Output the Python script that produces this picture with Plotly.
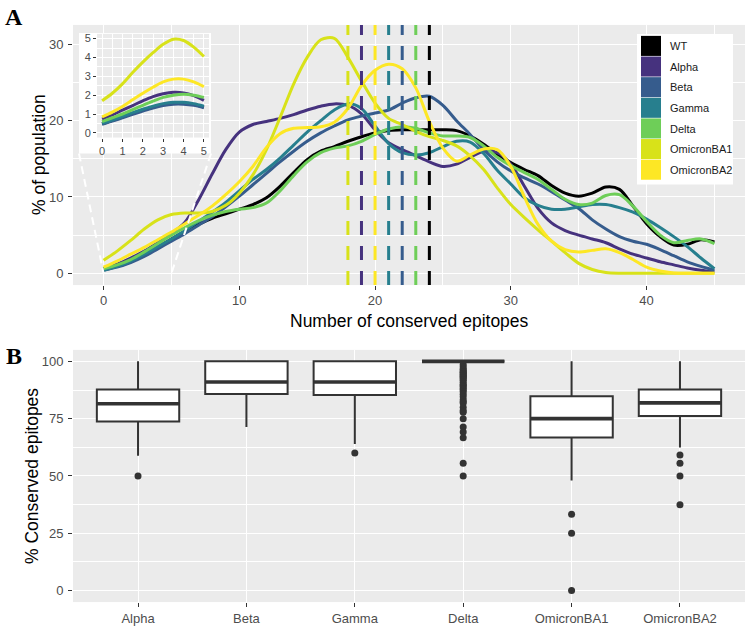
import plotly.graph_objects as go

W, H = 749, 626

# ---------------- Panel A data ----------------
variants = ["WT", "Alpha", "Beta", "Gamma", "Delta", "OmicronBA1", "OmicronBA2"]
colors = ["#000000", "#46327E", "#365C8D", "#277F8E", "#6ECE58", "#D8E219", "#FDE725"]
epitopes = list(range(46))

pct_WT = [0.5, 0.9, 1.5, 2.4, 3.4, 4.5, 5.5, 6.4, 7.2, 7.8, 8.4, 9.0, 9.9, 11.4, 13.2, 14.9,
          16.0, 16.6, 17.3, 17.9, 18.4, 18.7, 18.8, 18.8, 18.8, 18.8, 18.7, 18.0, 16.9, 15.6,
          14.5, 13.6, 12.8, 11.5, 10.5, 10.1, 10.5, 11.3, 11.0, 8.8, 6.5, 4.8, 3.7, 3.8, 4.4, 4.1]
pct_Alpha = [0.6, 1.2, 2.0, 2.9, 4.0, 5.2, 6.7, 9.6, 13.0, 16.2, 18.5, 19.5, 19.9, 20.3, 20.8, 21.4,
             21.9, 22.2, 22.0, 20.9, 18.8, 17.1, 16.2, 15.4, 14.6, 14.0, 14.3, 15.2, 16.0, 15.8,
             14.3, 11.4, 8.5, 6.6, 5.6, 5.0, 4.5, 4.0, 3.2, 2.5, 2.0, 1.5, 1.1, 0.7, 0.4, 0.2]
pct_Beta = [0.4, 0.8, 1.4, 2.2, 3.2, 4.2, 5.2, 6.3, 7.4, 8.7, 10.1, 11.6, 13.1, 14.6, 16.0, 17.3,
            18.4, 19.3, 20.1, 20.6, 21.0, 21.4, 22.3, 23.0, 23.2, 22.0, 20.0, 18.2, 16.2, 14.6,
            13.4, 12.5, 11.7, 10.7, 9.6, 8.5, 7.0, 5.8, 4.8, 4.2, 3.8, 3.1, 2.3, 1.5, 0.9, 0.4]
pct_Gamma = [0.4, 0.9, 1.6, 2.5, 3.5, 4.5, 5.6, 6.8, 8.0, 9.3, 10.8, 12.3, 13.6, 15.1, 16.8, 18.5,
             20.0, 21.4, 22.2, 21.6, 19.3, 17.0, 15.8, 15.5, 15.8, 16.6, 17.3, 17.2, 15.7, 13.5,
             11.7, 9.9, 8.9, 8.4, 8.4, 8.7, 9.0, 9.0, 8.6, 8.0, 7.1, 6.0, 4.8, 3.5, 2.0, 0.6]
pct_Delta = [0.6, 1.1, 1.8, 2.8, 3.9, 5.0, 6.0, 6.9, 7.6, 8.1, 8.4, 8.6, 9.2, 10.8, 12.8, 14.6,
             15.8, 16.4, 16.7, 17.3, 18.2, 18.9, 19.2, 19.0, 18.4, 18.0, 18.0, 17.8, 16.7, 15.2,
             14.1, 13.2, 12.3, 11.0, 9.7, 9.0, 9.2, 10.2, 10.3, 8.8, 6.8, 5.0, 4.0, 4.3, 4.5, 3.9]
pct_BA1 = [1.7, 2.9, 4.3, 5.8, 7.0, 7.7, 7.9, 7.9, 8.1, 8.9, 10.5, 12.9, 16.2, 20.4, 24.8, 28.3,
           30.6, 30.8, 28.3, 25.2, 22.3, 20.3, 19.5, 18.6, 17.9, 17.4, 16.7, 15.4, 13.6, 11.2,
           9.0, 7.3, 5.7, 4.2, 2.7, 1.3, 0.5, 0.1, 0.0, 0.0, 0.0, 0.0, 0.0, 0.0, 0.0, 0.0]
pct_BA2 = [0.8, 1.6, 2.5, 3.4, 4.4, 5.4, 6.5, 7.6, 8.8, 10.3, 12.0, 14.0, 16.5, 18.3, 19.0, 19.1,
           19.2, 19.8, 21.6, 24.6, 26.6, 27.4, 26.8, 24.3, 19.9, 16.4, 14.7, 15.5, 16.3, 16.2,
           14.0, 10.0, 6.4, 4.2, 3.1, 2.8, 3.0, 3.2, 2.7, 1.8, 0.8, 0.3, 0.05, 0.0, 0.0, 0.0]
series_main = [pct_WT, pct_Alpha, pct_Beta, pct_Gamma, pct_Delta, pct_BA1, pct_BA2]

median_epitopes = [24, 19, 22, 21, 23, 18, 20]

# inset (zoom on 0-5 epitopes)
inset_x = [0, 0.5, 1, 1.5, 2, 2.5, 3, 3.5, 4, 4.5, 5]
inset_WT = [0.48, 0.65, 0.84, 1.02, 1.20, 1.37, 1.50, 1.57, 1.57, 1.50, 1.37]
inset_Alpha = [0.73, 0.95, 1.20, 1.45, 1.70, 1.92, 2.07, 2.15, 2.12, 1.97, 1.72]
inset_Beta = [0.45, 0.62, 0.80, 0.98, 1.15, 1.32, 1.45, 1.52, 1.52, 1.46, 1.33]
inset_Gamma = [0.50, 0.68, 0.88, 1.07, 1.25, 1.42, 1.55, 1.62, 1.62, 1.55, 1.42]
inset_Delta = [0.60, 0.80, 1.00, 1.23, 1.46, 1.68, 1.88, 2.00, 2.05, 2.00, 1.88]
inset_BA1 = [1.70, 2.10, 2.60, 3.20, 3.75, 4.25, 4.70, 4.97, 4.90, 4.55, 4.05]
inset_BA2 = [0.85, 1.10, 1.40, 1.75, 2.10, 2.42, 2.70, 2.85, 2.85, 2.70, 2.45]
series_inset = [inset_WT, inset_Alpha, inset_Beta, inset_Gamma, inset_Delta, inset_BA1, inset_BA2]
zoom_window = [0, 5]

# ---------------- Panel B data ----------------
box_cats = ["Alpha", "Beta", "Gamma", "Delta", "OmicronBA1", "OmicronBA2"]
box_q1 = [73.8, 85.8, 85.3, 100, 66.8, 76.2]
box_median = [81.5, 91.0, 91.0, 100, 75.0, 81.9]
box_q3 = [87.7, 100, 100, 100, 84.8, 87.7]
box_lower = [58.8, 71.4, 63.9, 100, 48.0, 62.4]
box_upper = [100, 100, 100, 100, 100, 100]
out_Alpha = [50.0]
out_Beta = []
out_Gamma = [60.0]
out_Delta = [98.6, 97.6, 96.7, 96.2, 95.5, 95.2, 94.7, 94.1, 93.8, 93.3, 92.9, 92.3, 91.7,
             90.9, 90.0, 89.5, 88.9, 88.2, 87.5, 86.7, 85.7, 84.6, 83.3, 82.4, 81.8, 80.0,
             78.6, 77.8, 75.0, 71.4, 69.2, 66.7, 55.6, 50.0]
out_BA1 = [33.3, 25.0, 0.0]
out_BA2 = [59.1, 55.6, 50.0, 37.5]
outliers = [out_Alpha, out_Beta, out_Gamma, out_Delta, out_BA1, out_BA2]

# ---------------- layout geometry (pixels) ----------------
def px(x):
    return x / W

def py(y):
    return 1 - y / H

FONT = "Liberation Sans, Arial, sans-serif"
TICKC = "#4D4D4D"
BG = "#EBEBEB"

A_X = [73, 745]
A_Y = [24, 285]
B_Y = [350, 603]
IN_X = [97, 209]
IN_Y = [33, 137]
IN_BOX = [79, 211, 32, 153]
xA_range = [-2.25, 47.25]
yA_range = [-1.55, 32.55]

fig = go.Figure()

# main curves
for name, col, vals in zip(variants, colors, series_main):
    fig.add_trace(go.Scatter(x=epitopes, y=vals, mode="lines", name=name,
                             line=dict(color=col, width=3, shape="spline", smoothing=0.9),
                             xaxis="x", yaxis="y", showlegend=False, hoverinfo="skip"))

# inset curves
for name, col, vals in zip(variants, colors, series_inset):
    fig.add_trace(go.Scatter(x=inset_x, y=vals, mode="lines", name=name,
                             line=dict(color=col, width=3, shape="spline", smoothing=0.9),
                             xaxis="x3", yaxis="y3", showlegend=False, hoverinfo="skip"))

# boxplots
pos = list(range(len(box_cats)))
fig.add_trace(go.Box(x=pos, q1=box_q1, median=box_median, q3=box_q3,
                     lowerfence=box_lower, upperfence=box_upper,
                     width=0.76, whiskerwidth=0, fillcolor="white",
                     line=dict(color="#333333", width=2), boxpoints=False,
                     xaxis="x2", yaxis="y2", showlegend=False, hoverinfo="skip"))
mx, my = [], []
for i, m in enumerate(box_median):
    mx += [i - 0.38, i + 0.38, None]
    my += [m, m, None]
fig.add_trace(go.Scatter(x=mx, y=my, mode="lines", line=dict(color="#333333", width=3.6),
                         xaxis="x2", yaxis="y2", showlegend=False, hoverinfo="skip"))
ox, oy = [], []
for i, lst in enumerate(outliers):
    ox += [i] * len(lst)
    oy += lst
fig.add_trace(go.Scatter(x=ox, y=oy, mode="markers",
                         marker=dict(color="#333333", size=7, line=dict(width=0)),
                         xaxis="x2", yaxis="y2", showlegend=False, hoverinfo="skip"))

shapes = []
# inset white background box
shapes.append(dict(type="rect", xref="paper", yref="paper", layer="below",
                   x0=px(IN_BOX[0]), x1=px(IN_BOX[1]), y0=py(IN_BOX[3]), y1=py(IN_BOX[2]),
                   fillcolor="white", line=dict(width=0)))

# connector dashed lines from inset box corners to zoom window on x-axis
def pix_to_dataA(xp, yp):
    dx = xA_range[0] + (xp - A_X[0]) / (A_X[1] - A_X[0]) * (xA_range[1] - xA_range[0])
    dy = yA_range[0] + (A_Y[1] - yp) / (A_Y[1] - A_Y[0]) * (yA_range[1] - yA_range[0])
    return dx, dy

for corner_x, target in [(IN_BOX[0], zoom_window[0]), (IN_BOX[1], zoom_window[1])]:
    cx, cy = pix_to_dataA(corner_x, IN_BOX[3])
    shapes.append(dict(type="line", xref="x", yref="y", layer="above",
                       x0=cx, y0=cy, x1=target, y1=0,
                       line=dict(color="white", width=2, dash="8px,5px")))

# median vertical dashed lines
for col, m in zip(colors, median_epitopes):
    shapes.append(dict(type="line", xref="x", yref="y domain", layer="above",
                       x0=m, x1=m, y0=0, y1=1,
                       line=dict(color=col, width=3, dash="14px,11px")))

# manual legend
LEG = [637, 733, 33, 184]
shapes.append(dict(type="rect", xref="paper", yref="paper", layer="above",
                   x0=px(LEG[0]), x1=px(LEG[1]), y0=py(LEG[3]), y1=py(LEG[2]),
                   fillcolor="white", line=dict(width=0)))
annotations = []
row_h = 20.7
for i, (name, col) in enumerate(zip(variants, colors)):
    top = 35 + i * row_h
    shapes.append(dict(type="rect", xref="paper", yref="paper", layer="above",
                       x0=px(641), x1=px(661), y0=py(top + row_h - 0.6), y1=py(top),
                       fillcolor=col, line=dict(width=0)))
    annotations.append(dict(x=px(668), y=py(top + row_h / 2), xref="paper", yref="paper",
                            text=name, showarrow=False, xanchor="left", yanchor="middle",
                            font=dict(size=11, color="#1A1A1A", family=FONT)))

SERIF = "Liberation Serif, Times New Roman, serif"
TITLE_SIZE = 17.5
annotations += [
    dict(x=px(14), y=py(16), xref="paper", yref="paper", text="<b>A</b>", showarrow=False,
         xanchor="center", yanchor="middle", font=dict(size=24, color="black", family=SERIF)),
    dict(x=px(14), y=py(356), xref="paper", yref="paper", text="<b>B</b>", showarrow=False,
         xanchor="center", yanchor="middle", font=dict(size=24, color="black", family=SERIF)),
    dict(x=px((A_X[0] + A_X[1]) / 2), y=py(321), xref="paper", yref="paper",
         text="Number of conserved epitopes", showarrow=False, xanchor="center", yanchor="middle",
         font=dict(size=TITLE_SIZE, color="black", family=FONT)),
    dict(x=px(39), y=py((A_Y[0] + A_Y[1]) / 2), xref="paper", yref="paper",
         text="% of population", showarrow=False, textangle=-90, xanchor="center", yanchor="middle",
         font=dict(size=TITLE_SIZE, color="black", family=FONT)),
    dict(x=px(32), y=py((B_Y[0] + B_Y[1]) / 2), xref="paper", yref="paper",
         text="% Conserved epitopes", showarrow=False, textangle=-90, xanchor="center", yanchor="middle",
         font=dict(size=TITLE_SIZE, color="black", family=FONT)),
]

axis_common = dict(showline=False, zeroline=False, ticks="outside", ticklen=4, tickwidth=1.1,
                   tickcolor="#333333", gridcolor="white", gridwidth=1.2,
                   tickfont=dict(size=13, color=TICKC, family=FONT), fixedrange=True)

fig.update_layout(
    width=W, height=H, autosize=False,
    margin=dict(l=0, r=0, t=0, b=0),
    paper_bgcolor="white", plot_bgcolor=BG,
    showlegend=False,
    shapes=shapes, annotations=annotations,
    xaxis=dict(axis_common, domain=[px(A_X[0]), px(A_X[1])], range=xA_range, anchor="y",
               tickvals=[0, 10, 20, 30, 40], ticklabelstandoff=-1,
               minor=dict(showgrid=True, gridcolor="white", gridwidth=0.6, tickvals=[5, 15, 25, 35, 45])),
    yaxis=dict(axis_common, domain=[py(A_Y[1]), py(A_Y[0])], range=yA_range, anchor="x",
               tickvals=[0, 10, 20, 30], ticklabelstandoff=2,
               minor=dict(showgrid=True, gridcolor="white", gridwidth=0.6, tickvals=[5, 15, 25])),
    xaxis2=dict(axis_common, domain=[px(A_X[0]), px(A_X[1])], range=[-0.6, 5.6], anchor="y2",
                tickvals=pos, ticktext=box_cats, ticklabelstandoff=0),
    yaxis2=dict(axis_common, domain=[py(B_Y[1]), py(B_Y[0])], range=[-5, 105], anchor="x2",
                tickvals=[0, 25, 50, 75, 100], ticklabelstandoff=2,
                minor=dict(showgrid=True, gridcolor="white", gridwidth=0.6, tickvals=[12.5, 37.5, 62.5, 87.5])),
    xaxis3=dict(axis_common, domain=[px(IN_X[0]), px(IN_X[1])], range=[-0.25, 5.25], anchor="y3",
                tickvals=[0, 1, 2, 3, 4, 5], ticklen=3, gridwidth=0.9,
                tickfont=dict(size=11, color=TICKC, family=FONT),
                minor=dict(showgrid=True, gridcolor="white", gridwidth=0.5,
                           tickvals=[0.5, 1.5, 2.5, 3.5, 4.5])),
    yaxis3=dict(axis_common, domain=[py(IN_Y[1]), py(IN_Y[0])], range=[-0.25, 5.25], anchor="x3",
                tickvals=[0, 1, 2, 3, 4, 5], ticklen=3, gridwidth=0.9,
                tickfont=dict(size=11, color=TICKC, family=FONT),
                minor=dict(showgrid=True, gridcolor="white", gridwidth=0.5,
                           tickvals=[0.5, 1.5, 2.5, 3.5, 4.5])),
)

fig.write_html("out.html", config={"displayModeBar": False},
               post_script="document.body.style.margin='0px';")
